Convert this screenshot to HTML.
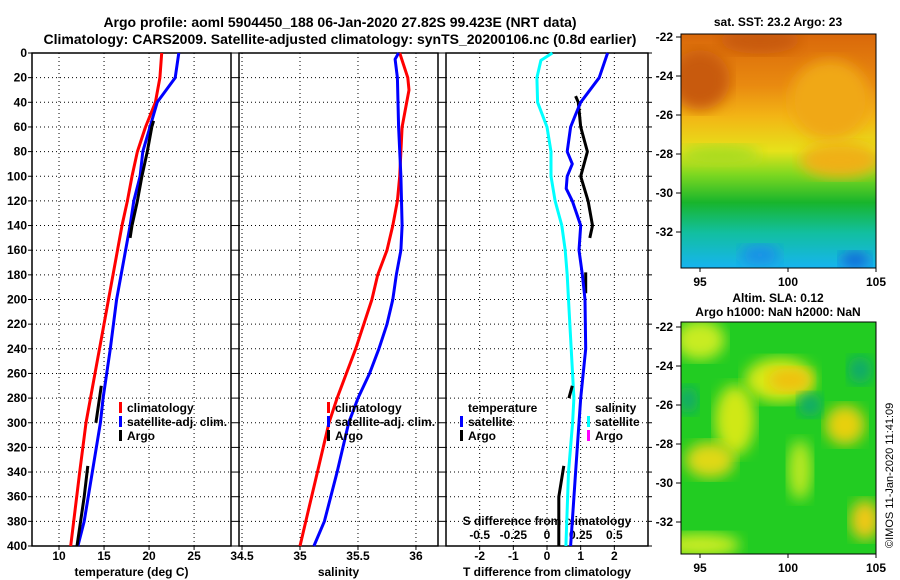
<!DOCTYPE html>
<html><head><meta charset="utf-8"><style>
body{margin:0;background:#fff;}
svg{display:block;font-family:"Liberation Sans",sans-serif;font-weight:bold;}
</style></head><body>
<svg id="c" width="900" height="580" viewBox="0 0 900 580">
<defs>
<linearGradient id="sst" x1="0" y1="0" x2="0" y2="1">
<stop offset="0" stop-color="#d9680a"/><stop offset="0.22" stop-color="#e98a10"/><stop offset="0.35" stop-color="#f3b415"/><stop offset="0.5" stop-color="#e6e21a"/><stop offset="0.6" stop-color="#7ed820"/><stop offset="0.72" stop-color="#18b52c"/><stop offset="0.85" stop-color="#12bfa0"/><stop offset="1" stop-color="#16b4f0"/>
</linearGradient>
<filter id="bl"><feGaussianBlur stdDeviation="7"/></filter>
<clipPath id="m1"><rect x="681" y="34" width="195" height="234"/></clipPath>
<clipPath id="m2"><rect x="681" y="322" width="195" height="232"/></clipPath>
</defs>
<text x="340" y="27" text-anchor="middle" font-size="14">Argo profile: aoml 5904450_188 06-Jan-2020 27.82S 99.423E (NRT data)</text>
<text x="340" y="44" text-anchor="middle" font-size="14">Climatology: CARS2009. Satellite-adjusted climatology: synTS_20200106.nc (0.8d earlier)</text>
<g id="plots"></g>
<text x="778" y="26" text-anchor="middle" font-size="12">sat. SST: 23.2 Argo: 23</text>
<g clip-path="url(#m1)">
<rect x="681" y="34" width="195" height="234" fill="url(#sst)"/>
<ellipse cx="700" cy="80" rx="30" ry="30" fill="#c85a08" filter="url(#bl)"/>
<ellipse cx="760" cy="40" rx="40" ry="14" fill="#c85a08" filter="url(#bl)"/>
<ellipse cx="830" cy="100" rx="40" ry="40" fill="#f0a812" filter="url(#bl)"/>
<ellipse cx="840" cy="160" rx="40" ry="18" fill="#f0b015" filter="url(#bl)"/>
<ellipse cx="720" cy="155" rx="40" ry="10" fill="#a8dc20" filter="url(#bl)"/>
<ellipse cx="760" cy="255" rx="20" ry="10" fill="#1c8ee8" filter="url(#bl)"/>
<ellipse cx="855" cy="260" rx="15" ry="8" fill="#1660d8" filter="url(#bl)"/>
</g>
<rect x="681" y="34" width="195" height="234" fill="none" stroke="#000"/>
<text x="778" y="302" text-anchor="middle" font-size="12">Altim. SLA: 0.12</text>
<text x="778" y="316" text-anchor="middle" font-size="12">Argo h1000: NaN h2000: NaN</text>
<g clip-path="url(#m2)">
<rect x="681" y="322" width="195" height="232" fill="#22cc22"/>
<ellipse cx="700" cy="340" rx="25" ry="20" fill="#c8ec20" filter="url(#bl)"/>
<ellipse cx="780" cy="380" rx="35" ry="22" fill="#d8e818" filter="url(#bl)"/>
<ellipse cx="790" cy="380" rx="22" ry="12" fill="#f0c010" filter="url(#bl)"/>
<ellipse cx="845" cy="425" rx="20" ry="20" fill="#e8d010" filter="url(#bl)"/>
<ellipse cx="735" cy="420" rx="20" ry="35" fill="#d0e818" filter="url(#bl)"/>
<ellipse cx="710" cy="460" rx="25" ry="18" fill="#e0d818" filter="url(#bl)"/>
<ellipse cx="800" cy="470" rx="12" ry="30" fill="#b8e820" filter="url(#bl)"/>
<ellipse cx="865" cy="520" rx="15" ry="20" fill="#f0c818" filter="url(#bl)"/>
<ellipse cx="700" cy="545" rx="40" ry="12" fill="#c8ec20" filter="url(#bl)"/>
<ellipse cx="810" cy="405" rx="12" ry="12" fill="#10a870" filter="url(#bl)"/>
<ellipse cx="860" cy="370" rx="12" ry="14" fill="#10a870" filter="url(#bl)"/>
<ellipse cx="688" cy="400" rx="10" ry="14" fill="#10a870" filter="url(#bl)"/>
</g>
<rect x="681" y="322" width="195" height="232" fill="none" stroke="#000"/>
<g id="maps"></g>
<text transform="translate(893,548) rotate(-90)" font-size="11" font-weight="normal">©IMOS 11-Jan-2020 11:41:09</text>
</svg>
<script>
const NS="http://www.w3.org/2000/svg";
const depthTicks=[0,20,40,60,80,100,120,140,160,180,200,220,240,260,280,300,320,340,360,380,400];
const tempTicks=[10,15,20,25];
const salTicks=[34.5,35,35.5,36];
const tdiffTicks=[-2,-1,0,1,2];
const sdiffTicks=[-0.5,-0.25,0,0.25,0.5];
const climTDepth=[0,20,40,60,80,100,120,140,180,220,260,300,340,400];
const climT=[21.4,21.2,20.7,19.6,18.7,18.1,17.6,17.0,16.0,15.0,14.0,13.0,12.3,11.3];
const satTDepth=[0,20,40,60,80,100,120,140,160,180,200,240,280,300,340,380,400];
const satT=[23.3,22.9,20.9,20.1,19.3,19.0,18.3,17.9,17.4,16.9,16.4,15.7,14.9,14.6,13.7,12.8,12.1];
const argoTDepth=[55,60,80,100,120,140,150,null,270,285,300,null,335,360,380,400];
const argoT=[20.5,20.3,19.8,19.2,18.7,18.1,17.9,null,14.7,14.4,14.1,null,13.2,12.8,12.4,12.0];
const climSDepth=[0,20,30,40,60,80,100,120,140,160,180,200,220,240,260,280,300,340,380,400];
const climS=[35.86,35.93,35.94,35.92,35.88,35.87,35.86,35.84,35.80,35.75,35.67,35.62,35.55,35.48,35.40,35.32,35.25,35.15,35.05,35.00];
const satSDepth=[0,5,20,60,100,140,160,180,200,220,240,260,280,300,340,380,400];
const satS=[35.85,35.82,35.84,35.85,35.87,35.88,35.87,35.83,35.80,35.75,35.68,35.60,35.50,35.42,35.32,35.21,35.12];
const tdSatDepth=[0,20,40,50,60,80,90,100,110,120,140,160,180,200,240,280,300,340,380,400];
const tdSat=[1.8,1.55,1.0,0.85,0.7,0.6,0.75,0.6,0.57,0.75,1.0,0.95,1.05,1.13,1.15,1.0,0.95,0.85,0.75,0.7];
const sdSatDepth=[0,6,20,40,60,80,100,120,140,160,180,200,240,280,300,340,400];
const sdSat=[0.04,-0.045,-0.075,-0.07,0,0.03,0.03,0.06,0.11,0.135,0.15,0.16,0.18,0.2,0.19,0.16,0.14];
const tdArgoDepth=[35,40,60,80,100,120,140,150,null,178,195,null,270,280,null,335,360,380,400];
const tdArgo=[0.85,0.93,1.0,1.2,1.0,1.22,1.35,1.27,null,1.15,1.15,null,0.75,0.65,null,0.5,0.35,0.35,0.35];
const lat=[-22,-24,-26,-28,-30,-32];
const lon=[95,100,105];

const svg=document.getElementById('plots');
function el(t,a,p){const e=document.createElementNS(NS,t);for(const k in a)e.setAttribute(k,a[k]);(p||svg).appendChild(e);return e;}
const Y0=53,Y1=546;
const yD=d=>Y0+(d/400)*(Y1-Y0);
const panels=[
 {x0:32,x1:231,v0:7,v1:29.1,ticks:tempTicks,label:'temperature (deg C)',name:'temperature'},
 {x0:239,x1:438,v0:34.474,v1:36.19,ticks:salTicks,label:'salinity',name:'salinity'},
 {x0:446,x1:648,v0:-3,v1:3,ticks:tdiffTicks,label:'T difference from climatology',name:'difference'}];
panels.forEach(p=>{p.sx=v=>p.x0+(v-p.v0)/(p.v1-p.v0)*(p.x1-p.x0);});
panels.forEach((p,i)=>{
 const g=el('g',{});
 
 
 depthTicks.forEach(d=>{
  const y=yD(d);
  if(d>0&&d<400){const l=el('line',{x1:p.x0,x2:p.x1,y1:y,y2:y,stroke:'#000','stroke-dasharray':'1 3','stroke-width':1},g);}
  el('line',{x1:p.x0-4,x2:p.x0,y1:y,y2:y,stroke:'#000'},g);
  el('line',{x1:p.x1,x2:p.x1+4,y1:y,y2:y,stroke:'#000'},g);
  if(i==0){const t=el('text',{x:p.x0-5,y:y+4,'text-anchor':'end','font-size':12},g);t.textContent=d;}
 });
 p.ticks.forEach(v=>{
  const x=p.sx(v);
  el('line',{x1:x,x2:x,y1:Y0,y2:Y1,stroke:'#000','stroke-dasharray':'1 3'},g);
  el('line',{x1:x,x2:x,y1:Y1,y2:Y1+4,stroke:'#000'},g);
  const t=el('text',{x:x,y:560,'text-anchor':'middle','font-size':12},g);t.textContent=v;
  
 });
 const f=el('rect',{x:p.x0,y:Y0,width:p.x1-p.x0,height:Y1-Y0,fill:'none',stroke:'#000','stroke-width':1.5},g);
 
 const xl=el('text',{x:(p.x0+p.x1)/2,y:576,'text-anchor':'middle','font-size':12},g);xl.textContent=p.label;
 
});
const pd=panels[2];
sdiffTicks.forEach(v=>{const t=el('text',{x:pd.sx(v*4),y:539,'text-anchor':'middle','font-size':12});t.textContent=v;
 });
{const t=el('text',{x:547,y:525,'text-anchor':'middle','font-size':12});t.textContent='S difference from climatology';
 }

function line(p,ds,vs,col,name,scale){
 scale=scale||1;let d='',pen=false;
 for(let k=0;k<ds.length;k++){
  if(ds[k]===null){pen=false;continue;}
  d+=(pen?'L':'M')+p.sx(vs[k]*scale).toFixed(1)+' '+yD(ds[k]).toFixed(1);pen=true;
 }
 const e=el('path',{d:d,fill:'none',stroke:col,'stroke-width':3,'stroke-linejoin':'round'});
 
 
}
line(panels[0],climTDepth,climT,'#ff0000','climatology-temperature-line');
line(panels[0],satTDepth,satT,'#0000ff','satellite-temperature-line');
line(panels[0],argoTDepth,argoT,'#000','argo-temperature-line');
line(panels[1],climSDepth,climS,'#ff0000','climatology-salinity-line');
line(panels[1],satSDepth,satS,'#0000ff','satellite-salinity-line');
line(panels[2],sdSatDepth,sdSat,'#00ffff','satellite-salinity-diff-line',4);
line(panels[2],tdArgoDepth,tdArgo,'#000','argo-temperature-diff-line');
line(panels[2],tdSatDepth,tdSat,'#0000ff','satellite-temperature-diff-line');

function leg(x,y,col,txt,name){
 if(col){const r=el('rect',{x:x-8,y:y-10,width:3,height:11,fill:col});}
 const t=el('text',{x:x,y:y,'font-size':12});t.textContent=txt;
}
leg(127,412,'#ff0000','climatology','legend-climatology');
leg(127,426,'#0000ff','satellite-adj. clim.','legend-satellite');
leg(127,440,'#000','Argo','legend-argo');
leg(335,412,'#ff0000','climatology','legend-climatology-s');
leg(335,426,'#0000ff','satellite-adj. clim.','legend-satellite-s');
leg(335,440,'#000','Argo','legend-argo-s');
leg(468,412,null,'temperature','legend-temperature-header');
leg(468,426,'#0000ff','satellite','legend-t-satellite');
leg(468,440,'#000','Argo','legend-t-argo');
leg(595,412,null,'salinity','legend-salinity-header');
leg(595,426,'#00ffff','satellite','legend-s-satellite');
leg(595,440,'#ff00ff','Argo','legend-s-argo');

const mg=document.getElementById('maps');
const maps=[{y0:37,bottom:268},{y0:327,bottom:554}];
const lonX=v=>700+(v-95)*17.6;
maps.forEach(m=>{
 lat.forEach(v=>{const y=m.y0+(-22-v)*19.5;
  el('line',{x1:676,x2:681,y1:y,y2:y,stroke:'#000'},mg);
  const t=el('text',{x:673,y:y+4,'text-anchor':'end','font-size':12},mg);t.textContent=v;
  });
 lon.forEach(v=>{const x=lonX(v);
  el('line',{x1:x,x2:x,y1:m.bottom,y2:m.bottom+4,stroke:'#000'},mg);
  const t=el('text',{x:x,y:m.bottom+18,'text-anchor':'middle','font-size':12},mg);t.textContent=v;
  });
});
</script>
</body></html>
